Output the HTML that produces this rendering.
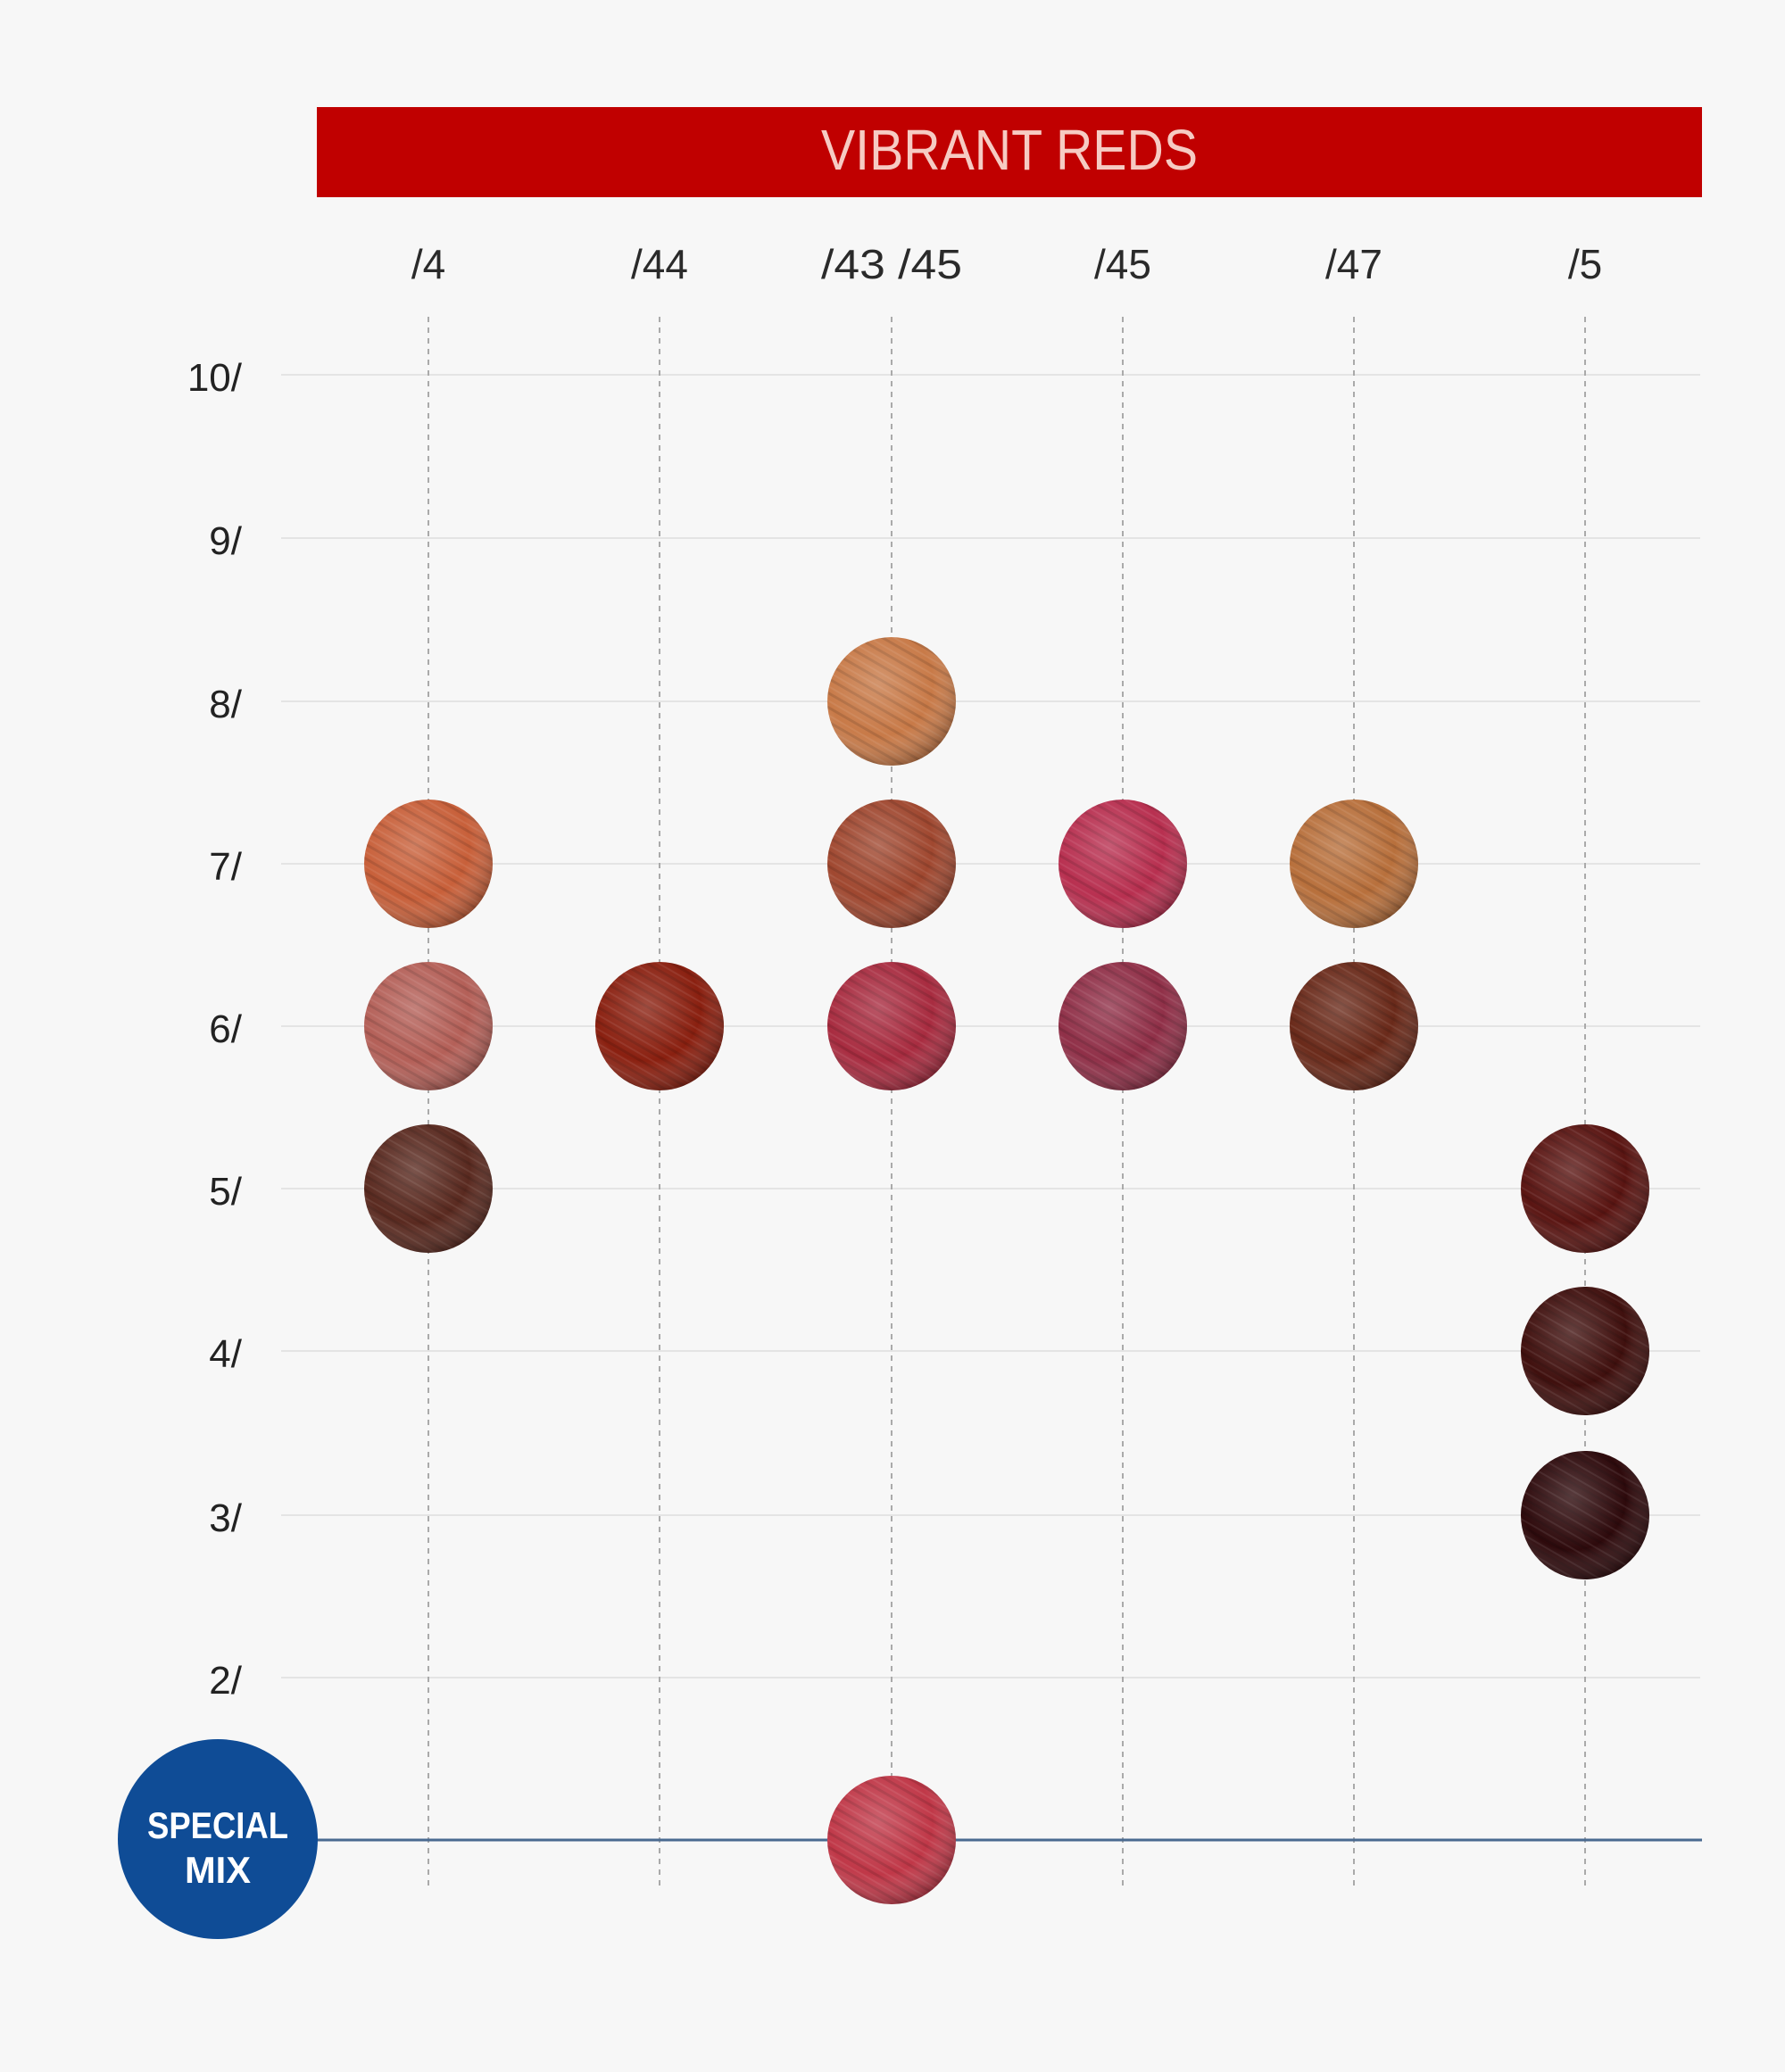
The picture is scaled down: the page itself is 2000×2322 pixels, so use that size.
<!DOCTYPE html>
<html><head><meta charset="utf-8"><style>
html,body{margin:0;padding:0;background:#f7f7f7;}
svg{display:block;}
text{font-family:"Liberation Sans",sans-serif;}
</style></head><body>
<svg width="2000" height="2322" viewBox="0 0 2000 2322" xmlns="http://www.w3.org/2000/svg">
<defs>
<radialGradient id="sh" cx="40%" cy="35%" r="70%">
<stop offset="0" stop-color="#fff" stop-opacity="0.2"/>
<stop offset="0.6" stop-color="#fff" stop-opacity="0"/>
<stop offset="1" stop-color="#000" stop-opacity="0.35"/>
</radialGradient>
<pattern id="str" width="14" height="14" patternUnits="userSpaceOnUse" patternTransform="rotate(-60)">
<rect width="14" height="14" fill="none"/>
<rect width="3" height="14" fill="#000" opacity="0.12"/>
<rect x="7" width="2" height="14" fill="#fff" opacity="0.08"/>
</pattern>
</defs>
<rect width="2000" height="2322" fill="#f7f7f7"/>
<rect x="355" y="120" width="1552" height="101" fill="#c00000"/>
<text x="1131" y="190" font-size="64" fill="#f6cbc3" text-anchor="middle" textLength="422" lengthAdjust="spacingAndGlyphs">VIBRANT REDS</text>
<g font-size="46" fill="#2a2a2a" text-anchor="middle">
<text x="480" y="312">/4</text><text x="739" y="312">/44</text><text x="999" y="312" textLength="158" lengthAdjust="spacingAndGlyphs">/43 /45</text>
<text x="1258" y="312">/45</text><text x="1517" y="312">/47</text><text x="1776" y="312">/5</text>
</g>
<g stroke="#e4e4e4" stroke-width="2">
<line x1="315" x2="1905" y1="420" y2="420"/><line x1="315" x2="1905" y1="603" y2="603"/>
<line x1="315" x2="1905" y1="786" y2="786"/><line x1="315" x2="1905" y1="968" y2="968"/>
<line x1="315" x2="1905" y1="1150" y2="1150"/><line x1="315" x2="1905" y1="1332" y2="1332"/>
<line x1="315" x2="1905" y1="1514" y2="1514"/><line x1="315" x2="1905" y1="1698" y2="1698"/>
<line x1="315" x2="1905" y1="1880" y2="1880"/>
</g>
<g font-size="44" fill="#222" text-anchor="end">
<text x="271" y="438">10/</text><text x="271" y="621">9/</text><text x="271" y="804">8/</text>
<text x="271" y="986">7/</text><text x="271" y="1168">6/</text><text x="271" y="1350">5/</text>
<text x="271" y="1532">4/</text><text x="271" y="1716">3/</text><text x="271" y="1898">2/</text>
</g>
<g stroke="#aaa" stroke-width="2" stroke-dasharray="6,6">
<line x1="480" x2="480" y1="355" y2="2117"/><line x1="739" x2="739" y1="355" y2="2117"/>
<line x1="999" x2="999" y1="355" y2="2117"/><line x1="1258" x2="1258" y1="355" y2="2117"/>
<line x1="1517" x2="1517" y1="355" y2="2117"/><line x1="1776" x2="1776" y1="355" y2="2117"/>
</g>
<line x1="355" x2="1907" y1="2062" y2="2062" stroke="#4a6a90" stroke-width="3"/>
<circle cx="244" cy="2061" r="112" fill="#0f4c96"/>
<text x="244" y="2060" font-size="42" font-weight="bold" fill="#fff" text-anchor="middle" textLength="158" lengthAdjust="spacingAndGlyphs">SPECIAL</text>
<text x="244" y="2110" font-size="42" font-weight="bold" fill="#fff" text-anchor="middle" textLength="74" lengthAdjust="spacingAndGlyphs">MIX</text>
<g>
<circle cx="480" cy="968" r="72" fill="#c8603a"/>
<circle cx="480" cy="1150" r="72" fill="#b46058"/>
<circle cx="480" cy="1332" r="72" fill="#5a2a20"/>
<circle cx="739" cy="1150" r="72" fill="#8a2010"/>
<circle cx="999" cy="786" r="72" fill="#c87a48"/>
<circle cx="999" cy="968" r="72" fill="#a04830"/>
<circle cx="999" cy="1150" r="72" fill="#a82c40"/>
<circle cx="999" cy="2062" r="72" fill="#c03848"/>
<circle cx="1258" cy="968" r="72" fill="#b83050"/>
<circle cx="1258" cy="1150" r="72" fill="#903048"/>
<circle cx="1517" cy="968" r="72" fill="#b8703c"/>
<circle cx="1517" cy="1150" r="72" fill="#6a2a1a"/>
<circle cx="1776" cy="1332" r="72" fill="#5a1512"/>
<circle cx="1776" cy="1514" r="72" fill="#40100e"/>
<circle cx="1776" cy="1698" r="72" fill="#2e0a0c"/>
</g>
<g>
<circle cx="480" cy="968" r="72" fill="url(#str)"/><circle cx="480" cy="968" r="72" fill="url(#sh)"/>
<circle cx="480" cy="1150" r="72" fill="url(#str)"/><circle cx="480" cy="1150" r="72" fill="url(#sh)"/>
<circle cx="480" cy="1332" r="72" fill="url(#str)"/><circle cx="480" cy="1332" r="72" fill="url(#sh)"/>
<circle cx="739" cy="1150" r="72" fill="url(#str)"/><circle cx="739" cy="1150" r="72" fill="url(#sh)"/>
<circle cx="999" cy="786" r="72" fill="url(#str)"/><circle cx="999" cy="786" r="72" fill="url(#sh)"/>
<circle cx="999" cy="968" r="72" fill="url(#str)"/><circle cx="999" cy="968" r="72" fill="url(#sh)"/>
<circle cx="999" cy="1150" r="72" fill="url(#str)"/><circle cx="999" cy="1150" r="72" fill="url(#sh)"/>
<circle cx="999" cy="2062" r="72" fill="url(#str)"/><circle cx="999" cy="2062" r="72" fill="url(#sh)"/>
<circle cx="1258" cy="968" r="72" fill="url(#str)"/><circle cx="1258" cy="968" r="72" fill="url(#sh)"/>
<circle cx="1258" cy="1150" r="72" fill="url(#str)"/><circle cx="1258" cy="1150" r="72" fill="url(#sh)"/>
<circle cx="1517" cy="968" r="72" fill="url(#str)"/><circle cx="1517" cy="968" r="72" fill="url(#sh)"/>
<circle cx="1517" cy="1150" r="72" fill="url(#str)"/><circle cx="1517" cy="1150" r="72" fill="url(#sh)"/>
<circle cx="1776" cy="1332" r="72" fill="url(#str)"/><circle cx="1776" cy="1332" r="72" fill="url(#sh)"/>
<circle cx="1776" cy="1514" r="72" fill="url(#str)"/><circle cx="1776" cy="1514" r="72" fill="url(#sh)"/>
<circle cx="1776" cy="1698" r="72" fill="url(#str)"/><circle cx="1776" cy="1698" r="72" fill="url(#sh)"/>
</g>
</svg>
</body></html>
